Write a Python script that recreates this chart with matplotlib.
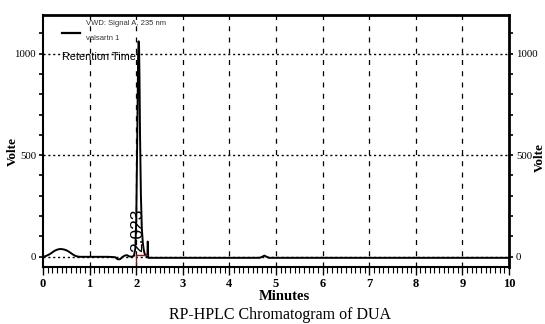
import matplotlib
matplotlib.use('Agg')
import matplotlib.pyplot as plt
from matplotlib.ticker import MultipleLocator

# chromatogram trace (minutes, volts)
t = [0.0, 0.05, 0.1, 0.15, 0.2, 0.25, 0.3, 0.35, 0.4, 0.45,
     0.5, 0.55, 0.6, 0.65, 0.7, 0.75, 0.8, 1.0, 1.2, 1.4,
     1.55, 1.6, 1.65, 1.7, 1.75, 1.8, 1.85, 1.9, 1.95, 1.98,
     2.0, 2.02, 2.04, 2.05, 2.06, 2.07, 2.08, 2.1, 2.12, 2.14,
     2.16, 2.18, 2.2, 2.22, 2.24, 2.245, 2.25, 2.255, 2.26, 2.3,
     3.0, 4.0, 4.65, 4.7, 4.75, 4.8, 4.85, 5.0, 6.0, 8.0, 10.0]
v = [0, 3, 8, 14, 22, 30, 35, 38, 38, 36,
     32, 26, 18, 10, 4, 1, 0, 0, 0, 0,
     -2, -12, -12, -2, 6, 8, 2, 0, 5, 40,
     180, 560, 980, 1060, 1040, 880, 620, 300, 140, 70,
     35, 15, 8, 4, 2, 75, 70, 5, -5, -5,
     -5, -5, -5, 0, 6, 0, -5, -5, -5, -5, -5]

peak_rt = 2.023
y_ticks = [0, 500, 1000]
x_ticks = list(range(11))

serif = 'Liberation Serif'
sans = 'Liberation Sans'

fig = plt.figure(figsize=(5.45, 3.24), dpi=100)
ax = fig.add_axes([0.079, 0.176, 0.855, 0.778])

ax.plot(t, v, color='black', lw=1.4, zorder=3)

# integration baseline marks
ax.plot([2.0, 2.0], [-35, 10], color='#8b1a1a', lw=1.0, zorder=4)
ax.plot([2.0, 2.22], [8, 8], color='#8b1a1a', lw=1.0, zorder=4)

ax.text(peak_rt, 25, f'{peak_rt:.3f}', rotation=90, ha='center', va='bottom',
        fontsize=12.5, family=sans, zorder=5)

# grid
for x in x_ticks[1:-1]:
    ax.axvline(x, color='black', lw=0.9, ls=(0, (4, 5)), zorder=1)
for y in y_ticks:
    ax.axhline(y, color='black', lw=1.0, ls=(0, (1.5, 2)), zorder=1)

ax.set_xlim(0, 10)
ax.set_ylim(-50, 1190)
ax.set_xticks(x_ticks)
ax.xaxis.set_minor_locator(MultipleLocator(0.1))
ax.set_yticks(y_ticks)
ax.yaxis.set_minor_locator(MultipleLocator(100))

ax.tick_params(axis='x', which='major', direction='out', length=6, width=1.0,
               labelsize=9, pad=2)
ax.tick_params(axis='x', which='minor', direction='out', length=4, width=0.8)
ax.tick_params(axis='y', which='both', direction='out', length=3, width=1.2,
               labelsize=7.8, left=True, right=True, labelleft=True, labelright=True,
               pad=2)
for lab in ax.get_xticklabels():
    lab.set_family(serif)
    lab.set_fontweight('bold')
for tk in ax.yaxis.get_major_ticks():
    tk.label1.set_family(serif)
    tk.label2.set_family(serif)

ax.spines['top'].set_linewidth(2.0)
ax.spines['right'].set_linewidth(2.0)
ax.spines['left'].set_linewidth(1.5)
ax.spines['bottom'].set_linewidth(1.5)

# legend drawn by hand
ax.plot([0.041, 0.079], [0.929, 0.929], color='black', lw=1.6,
        transform=ax.transAxes, clip_on=False)
ax.text(0.092, 0.964, 'VWD: Signal A, 235 nm', transform=ax.transAxes,
        fontsize=5.5, family=sans, va='center', color='#333333')
ax.text(0.092, 0.905, 'valsartn 1', transform=ax.transAxes,
        fontsize=5.5, family=sans, va='center', color='#333333')
ax.text(0.041, 0.833, 'Retention Time', transform=ax.transAxes,
        fontsize=7.8, family=sans, va='center')

# axis labels and caption
fig.text(13 / 545, 1 - 152 / 324, 'Volte', rotation=90, ha='center', va='center',
         fontsize=9.5, fontweight='bold', family=serif)
fig.text(540 / 545, 1 - 158 / 324, 'Volte', rotation=90, ha='center', va='center',
         fontsize=9.5, fontweight='bold', family=serif)
fig.text(284 / 545, 1 - 296 / 324, 'Minutes', ha='center', va='center',
         fontsize=10.5, fontweight='bold', family=serif)
fig.text(280 / 545, 1 - 315 / 324, 'RP-HPLC Chromatogram of DUA', ha='center',
         va='center', fontsize=11.5, family=serif)

fig.savefig('out.png', dpi=100)
